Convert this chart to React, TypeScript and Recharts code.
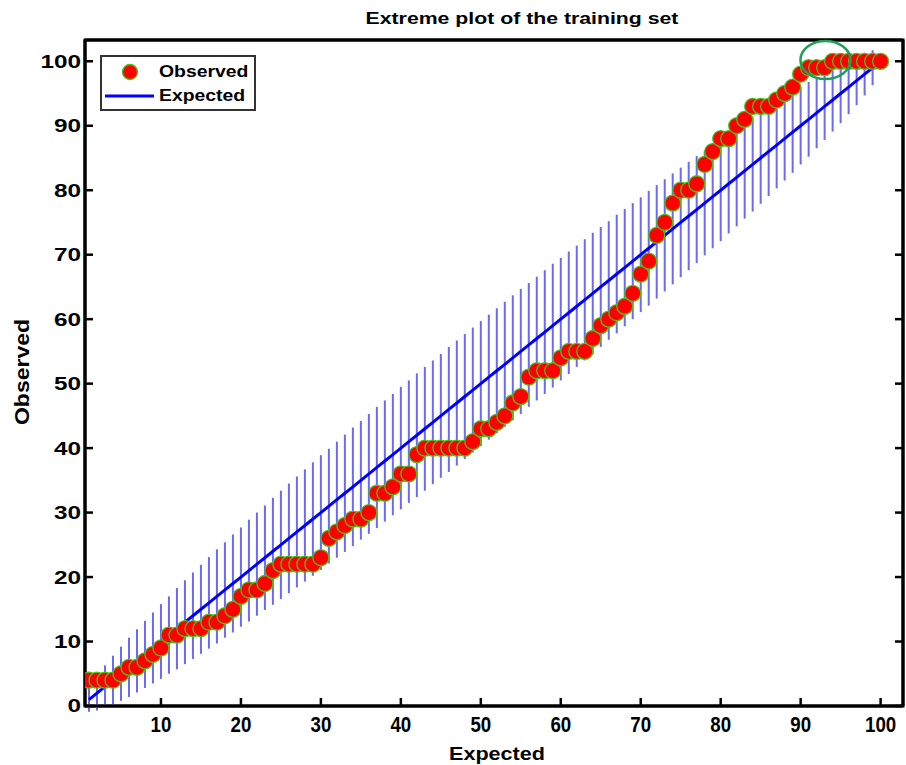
import React from "react";
import { ComposedChart, Scatter, Line, XAxis, YAxis, ErrorBar, ReferenceDot, ReferenceArea } from "recharts";

// observed value for each rank 1..100
const observed = [
  4, 4, 4, 4, 5, 6, 6, 7, 8, 9,
  11, 11, 12, 12, 12, 13, 13, 14, 15, 17,
  18, 18, 19, 21, 22, 22, 22, 22, 22, 23,
  26, 27, 28, 29, 29, 30, 33, 33, 34, 36,
  36, 39, 40, 40, 40, 40, 40, 40, 41, 43,
  43, 44, 45, 47, 48, 51, 52, 52, 52, 54,
  55, 55, 55, 57, 59, 60, 61, 62, 64, 67,
  69, 73, 75, 78, 80, 80, 81, 84, 86, 88,
  88, 90, 91, 93, 93, 93, 94, 95, 96, 98,
  99, 99, 99, 100, 100, 100, 100, 100, 100, 100,
];

// half length of the vertical bars around the expected line, ranks 1..99
const halfWidth = [
  1.9, 2.7, 3.3, 3.8, 4.2, 4.6, 4.9, 5.2, 5.5, 5.8,
  6.0, 6.3, 6.5, 6.7, 6.9, 7.1, 7.3, 7.4, 7.6, 7.7,
  7.9, 8.0, 8.1, 8.3, 8.4, 8.5, 8.6, 8.7, 8.8, 8.9,
  8.9, 9.0, 9.1, 9.2, 9.2, 9.3, 9.4, 9.4, 9.4, 9.5,
  9.5, 9.6, 9.6, 9.6, 9.6, 9.7, 9.7, 9.7, 9.7, 9.7,
  9.7, 9.7, 9.7, 9.7, 9.7, 9.6, 9.6, 9.6, 9.6, 9.5,
  9.5, 9.4, 9.4, 9.4, 9.3, 9.2, 9.2, 9.1, 9.0, 8.9,
  8.9, 8.8, 8.7, 8.6, 8.5, 8.4, 8.3, 8.1, 8.0, 7.9,
  7.7, 7.6, 7.4, 7.3, 7.1, 6.9, 6.7, 6.5, 6.3, 6.0,
  5.8, 5.5, 5.2, 4.9, 4.6, 4.2, 3.8, 3.3, 2.7,
];

const xTicks = [10, 20, 30, 40, 50, 60, 70, 80, 90, 100];
const yTicks = [0, 10, 20, 30, 40, 50, 60, 70, 80, 90, 100];

const observedData = observed.map((v, i) => ({ x: i + 1, y: v }));
const expectedData = halfWidth.map((h, i) => ({ x: i + 1, y: i + 1, hw: h }));

const FONT = '"Liberation Sans", Arial, sans-serif';
const X_DOMAIN: [number, number] = [0.5, 102.8];
const Y_DOMAIN: [number, number] = [0, 103.3];

const ObservedDot = (p: any) => (
  <circle cx={p.cx} cy={p.cy} r={8} fill="#ff0000" stroke="#45c21c" strokeWidth={1.3} />
);

const NoDot = () => <g />;
const NoTick = () => <g />;

const XTick = (p: any) => (
  <text
    transform={`translate(${p.x},${p.y}) scale(0.85,1)`}
    textAnchor="middle"
    dy="0.72em"
    fontFamily={FONT}
    fontWeight="bold"
    fontSize={22}
    fill="#000"
  >
    {p.payload.value}
  </text>
);

const YTick = (p: any) => (
  <text
    transform={`translate(${p.x},${p.y}) scale(1.35,1)`}
    textAnchor="end"
    dy="0.36em"
    fontFamily={FONT}
    fontWeight="bold"
    fontSize={18}
    fill="#000"
  >
    {p.payload.value}
  </text>
);

const Ring = (p: any) => (
  <ellipse cx={p.cx} cy={p.cy} rx={25} ry={19} fill="none" stroke="#1f9e55" strokeWidth={2.5} />
);

const axisLine = { stroke: "#000", strokeWidth: 3 };
const tickLine = { stroke: "#000", strokeWidth: 2.5 };

export default function App() {
  return (
    <div
      style={{
        position: "relative",
        width: 906,
        height: 765,
        overflow: "hidden",
        background: "#fff",
        fontFamily: FONT,
      }}
    >
      <style>{"html, body { margin: 0; padding: 0; overflow: hidden; }"}</style>
      <ComposedChart
        width={906}
        height={765}
        margin={{ top: 39, right: 2, bottom: 19, left: 25 }}
        style={{ position: "absolute", left: 0, top: 0 }}
      >
        <XAxis
          type="number"
          dataKey="x"
          domain={X_DOMAIN}
          ticks={xTicks}
          tick={<XTick />}
          tickSize={-8}
          tickMargin={18}
          height={40}
          axisLine={axisLine}
          tickLine={tickLine}
          allowDataOverflow
        />
        <XAxis
          xAxisId="top"
          orientation="top"
          type="number"
          domain={X_DOMAIN}
          ticks={xTicks}
          tick={<NoTick />}
          tickSize={-8}
          height={1}
          axisLine={axisLine}
          tickLine={tickLine}
          allowDataOverflow
        />
        <YAxis
          type="number"
          dataKey="y"
          domain={Y_DOMAIN}
          ticks={yTicks}
          tick={<YTick />}
          tickSize={-8}
          tickMargin={12}
          width={60}
          axisLine={axisLine}
          tickLine={tickLine}
          allowDataOverflow
        />
        <YAxis
          yAxisId="right"
          orientation="right"
          type="number"
          domain={Y_DOMAIN}
          ticks={yTicks}
          tick={<NoTick />}
          tickSize={-8}
          width={1}
          axisLine={axisLine}
          tickLine={tickLine}
          allowDataOverflow
        />
        <ReferenceArea
          x1={X_DOMAIN[0]}
          x2={X_DOMAIN[1]}
          y1={Y_DOMAIN[0]}
          y2={Y_DOMAIN[1]}
          fill="none"
          stroke="#000"
          strokeWidth={3}
          ifOverflow="visible"
        />
        <Scatter data={expectedData} dataKey="y" shape={<NoDot />} isAnimationActive={false}>
          <ErrorBar
            dataKey="hw"
            direction="y"
            width={0}
            stroke="#6a6af2"
            strokeWidth={2}
            isAnimationActive={false}
          />
        </Scatter>
        <Line
          data={expectedData}
          dataKey="y"
          type="linear"
          stroke="#0000ff"
          strokeWidth={3}
          dot={false}
          activeDot={false}
          isAnimationActive={false}
        />
        <Scatter data={observedData} dataKey="y" shape={<ObservedDot />} isAnimationActive={false} />
        <ReferenceDot x={93.1} y={100.2} r={20} shape={<Ring />} ifOverflow="visible" />
      </ComposedChart>

      <div
        style={{
          position: "absolute",
          left: 522,
          top: 19,
          transform: "translate(-50%, -50%) scaleX(1.25)",
          fontWeight: "bold",
          fontSize: 17,
          whiteSpace: "nowrap",
        }}
      >
        Extreme plot of the training set
      </div>
      <div
        style={{
          position: "absolute",
          left: 497,
          top: 754,
          transform: "translate(-50%, -50%) scaleX(1.2)",
          fontWeight: "bold",
          fontSize: 18,
          lineHeight: 1,
          whiteSpace: "nowrap",
        }}
      >
        Expected
      </div>
      <div
        style={{
          position: "absolute",
          left: 22,
          top: 372,
          transform: "translate(-50%, -50%) rotate(-90deg) scaleX(1.15)",
          fontWeight: "bold",
          fontSize: 20,
          whiteSpace: "nowrap",
        }}
      >
        Observed
      </div>

      <div
        style={{
          position: "absolute",
          left: 100,
          top: 55,
          width: 152,
          height: 52,
          border: "2px solid #333",
          background: "#fff",
          fontWeight: "bold",
          fontSize: 17,
        }}
      >
        <svg width={56} height={52} style={{ position: "absolute", left: 0, top: 0 }}>
          <circle cx={28} cy={15} r={7.5} fill="#ff0000" stroke="#45c21c" strokeWidth={1.3} />
          <line x1={3} y1={39} x2={52} y2={39} stroke="#0000ff" strokeWidth={3} />
        </svg>
        <div style={{ position: "absolute", left: 57, top: 5, lineHeight: "20px", transform: "scaleX(1.14)", transformOrigin: "left center" }}>
          Observed
        </div>
        <div style={{ position: "absolute", left: 57, top: 29, lineHeight: "20px", transform: "scaleX(1.14)", transformOrigin: "left center" }}>
          Expected
        </div>
      </div>
    </div>
  );
}
